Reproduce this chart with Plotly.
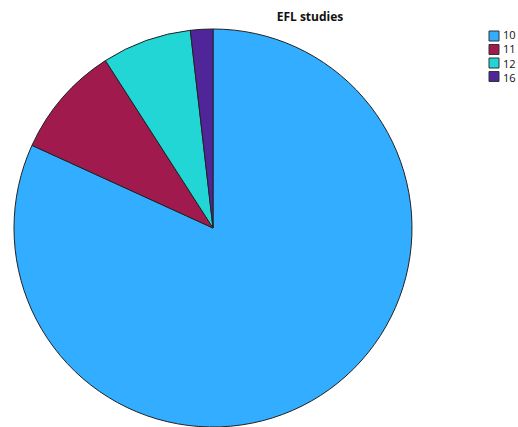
import plotly.graph_objects as go

# Category labels and counts for the EFL studies pie
labels = ["10", "11", "12", "16"]
counts = [45, 5, 4, 1]
colors = ["#33adff", "#a01a4e", "#23d6d6", "#51259a"]

W, H = 518, 427

fig = go.Figure(
    go.Pie(
        labels=labels,
        values=counts,
        sort=False,
        direction="clockwise",
        rotation=0,
        textinfo="none",
        hoverinfo="label+value+percent",
        showlegend=False,
        marker=dict(colors=colors, line=dict(color="#222222", width=1)),
        domain=dict(x=[13 / W, 413 / W], y=[0, 1 - 29 / H]),
    )
)

# Compact legend: coloured boxes with the category names stacked beside them
shapes = []
row_top, row_step, box = 31, 13.5, 10
for i, col in enumerate(colors):
    top = row_top + i * row_step
    shapes.append(dict(
        type="rect", xref="paper", yref="paper",
        x0=489 / W, x1=(489 + box) / W,
        y0=1 - (top + box) / H, y1=1 - top / H,
        fillcolor=col, line=dict(color="#333333", width=1),
    ))
legend_mid = row_top + (len(labels) - 1) * row_step / 2 + box / 2
legend_text = dict(
    text="<br>".join(labels), xref="paper", yref="paper",
    x=502 / W, xanchor="left",
    y=1 - legend_mid / H, yanchor="middle",
    align="left", borderpad=0, showarrow=False,
    font=dict(family="Open Sans, DejaVu Sans, sans-serif", size=11, color="#111111"),
)

fig.update_layout(
    width=W,
    height=H,
    margin=dict(l=0, r=0, t=0, b=0, autoexpand=False),
    paper_bgcolor="white",
    plot_bgcolor="white",
    showlegend=False,
    shapes=shapes,
    annotations=[legend_text],
    title=dict(
        text="<b>EFL studies</b>",
        x=310 / W,
        xanchor="center",
        y=1 - 17 / H,
        yanchor="middle",
        font=dict(family="Open Sans, DejaVu Sans, sans-serif", size=12, color="#111111"),
    ),
)

fig.write_html("out.html")
